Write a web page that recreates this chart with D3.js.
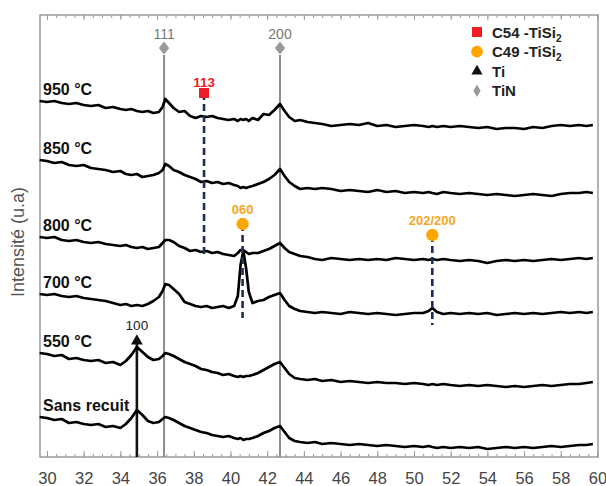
<!DOCTYPE html>
<html><head><meta charset="utf-8">
<script src="https://cdn.jsdelivr.net/npm/d3@7"></script>
<style>body{margin:0;background:#fff} svg{display:block}</style>
</head><body><svg id="chart" width="606" height="486"></svg>
<script>
// 2θ (degrees) sampling grid shared by all patterns
const twoTheta = [29.6,30.0,30.4,30.8,31.2,31.6,32.0,32.4,32.8,33.2,33.6,34.0,34.3,34.6,34.9,35.2,35.5,35.8,36.1,36.3,
  36.45,36.65,36.9,37.2,37.5,37.8,38.1,38.4,38.7,39.0,39.3,39.6,39.9,40.2,40.4,40.55,40.7,40.85,41.0,41.2,
  41.5,41.8,42.1,42.4,42.7,42.95,43.2,43.5,43.8,44.2,44.6,45.0,45.5,46.0,46.5,47.0,47.5,48.0,48.5,49.0,
  49.5,50.0,50.5,50.8,51.0,51.25,51.6,52.0,52.5,53.0,53.5,54.0,54.5,55.0,55.5,56.0,56.5,57.0,57.5,58.0,
  58.5,59.0,59.4,59.75];

const sampleNames = ["950 °C","850 °C","800 °C","700 °C","550 °C","Sans recuit"];

// Intensities (u.a., stacked with offsets as in the figure)
const int950 = [356,355,356,354,353,354,352,351,352,349, 350,348,347,348,346,345,346,344,345,350,
  358,354,349,345,346,341,339,341,340,341, 339,338,337,338,336,338,337,338,336,339,
  337,343,342,347,353,346,340,336,337,335, 334,333,331,332,333,332,334,331,332,330,
  331,332,331,330,331,330,331,330,331,330, 329,330,328,329,329,328,330,329,331,332, 331,332,331,332];
const int850 = [297,296,294,295,292,291,292,289,288,287, 285,286,283,282,283,280,281,282,284,287,
  293,291,287,285,282,280,278,275,276,274, 275,273,274,272,271,269,270,269,270,271,
  273,275,278,282,288,281,275,271,268,269, 268,269,268,266,267,266,265,267,265,266,
  264,265,264,265,264,263,265,264,263,264, 263,262,263,262,261,262,263,262,261,263, 264,264,265,264];
const int800 = [220,219,220,217,216,217,215,214,215,213, 212,211,212,210,209,210,208,209,210,214,
  217,217,215,211,209,206,207,205,206,204, 205,203,202,201,204,207,207,205,203,204,
  204,206,208,211,214,209,205,203,201,200, 198,197,199,198,197,198,197,198,197,199,
  198,197,198,197,198,197,198,197,196,197, 196,194,196,197,196,197,196,197,198,197, 198,199,198,199];
const int700 = [163,162,163,161,160,161,159,158,157,156, 154,152,153,151,152,151,153,156,160,166,
  173,172,168,163,155,153,151,150,151,149, 150,151,149,151,161,192,206,189,165,154,
  156,157,160,162,164,157,151,148,146,145, 144,145,144,143,145,144,143,144,143,142,
  143,144,144,146,149,145,143,144,143,144, 143,144,142,143,144,143,144,143,144,145, 144,145,144,145];
const int550 = [104,103,101,102,98,99,97,96,97,94, 95,92,96,102,110,105,100,97,98,101,
  104,103,101,98,95,93,91,88,87,85, 84,82,83,81,80,81,80,81,81,82,
  84,87,90,93,95,89,83,79,78,77, 78,76,77,75,76,75,74,75,74,74,
  73,74,73,72,73,72,73,72,71,72, 71,72,71,70,71,70,71,72,71,72, 73,73,74,75];
const intSansRecuit = [40,39,37,38,34,35,33,32,33,30, 31,29,33,39,47,42,36,34,35,38,
  40,39,37,34,31,29,27,25,24,22, 21,20,21,19,18,19,17,18,18,19,
  21,24,26,29,31,25,19,16,15,14, 15,13,14,13,12,13,12,11,12,11,
  10,11,10,11,10,9,10,9,10,9, 10,8,9,10,9,10,9,10,11,10, 11,12,12,13];

const xTicks = [30,32,34,36,38,40,42,44,46,48,50,52,54,56,58,60];

// Phase reflections: position (2θ) and marker intensity level
const tinPeaks = [{hkl:"111", theta:36.38, level:409}, {hkl:"200", theta:42.70, level:409}];
const tiPeaks  = [{hkl:"100", theta:34.90, level:117}];
const c54Peaks = [{hkl:"113", theta:38.56, level:364, base:199}];
const c49Peaks = [{hkl:"060", theta:40.66, level:233, base:139}, {hkl:"202/200", theta:51.0, level:222, base:132}];

const legendItems = [
  {name:"C54 -TiSi", sub:"2", sym:"square", color:"#ee1c24"},
  {name:"C49 -TiSi", sub:"2", sym:"circle", color:"#ffa500"},
  {name:"Ti", sub:"", sym:"triangle", color:"#111"},
  {name:"TiN", sub:"", sym:"diamond", color:"#9a9a9a"}
];

const series = [int950, int850, int800, int700, int550, intSansRecuit];

const svg = d3.select("#chart");
const L = 40, R = 598, T = 15, B = 457;
const x = d3.scaleLinear().domain([29.62, 60.03]).range([L, R]);
const y = d3.scaleLinear().domain([0, 442]).range([B, T]);
const FONT = "'Liberation Sans', Arial, sans-serif";

// frame
svg.append("rect").attr("x", L).attr("y", T).attr("width", R - L).attr("height", B - T)
  .attr("fill", "none").attr("stroke", "#9a9a9a").attr("stroke-width", 1.5);

// axes ticks
const minor = d3.range(30, 60.01, 0.5);
const gB = svg.append("g").attr("transform", `translate(0,${B})`)
  .call(d3.axisBottom(x).tickValues(minor).tickSize(-3).tickFormat(""));
gB.select(".domain").remove();
const gB2 = svg.append("g").attr("transform", `translate(0,${B})`)
  .call(d3.axisBottom(x).tickValues(xTicks).tickSize(-6).tickPadding(15).tickFormat(d3.format("d")));
gB2.select(".domain").remove();
gB2.selectAll("text").attr("font-family", FONT).attr("font-size", 16.5).attr("fill", "#444");
const gT = svg.append("g").attr("transform", `translate(0,${T})`)
  .call(d3.axisTop(x).tickValues(minor).tickSize(-3).tickFormat(""));
gT.select(".domain").remove();
const gT2 = svg.append("g").attr("transform", `translate(0,${T})`)
  .call(d3.axisTop(x).tickValues(xTicks).tickSize(-5).tickFormat(""));
gT2.select(".domain").remove();
svg.selectAll(".tick line").attr("stroke", "#9a9a9a").attr("stroke-width", 1);

// y title
svg.append("text").attr("transform", `translate(24,${(T + B) / 2 + 6}) rotate(-90)`)
  .attr("text-anchor", "middle").attr("font-family", FONT).attr("font-size", 18)
  .attr("fill", "#555").text("Intensité (u.a)");

// TiN reference lines
tinPeaks.forEach(p => {
  svg.append("line").attr("x1", x(p.theta)).attr("x2", x(p.theta))
    .attr("y1", y(p.level) + 7).attr("y2", B).attr("stroke", "#8c8c8c").attr("stroke-width", 2);
});
// Ti reference line
tiPeaks.forEach(p => {
  svg.append("line").attr("x1", x(p.theta)).attr("x2", x(p.theta))
    .attr("y1", y(p.level)).attr("y2", B).attr("stroke", "#111").attr("stroke-width", 2.6);
});

// patterns
const line = d3.line().x((d, i) => x(twoTheta[i])).y(d => y(d));
series.forEach(s => {
  svg.append("path").attr("d", line(s)).attr("fill", "none")
    .attr("stroke", "#000").attr("stroke-width", 2.7).attr("stroke-linejoin", "round");
});

// sample labels
series.forEach((s, i) => {
  svg.append("text").attr("x", L + 3).attr("y", y(s[0]) - 6)
    .attr("font-family", FONT).attr("font-weight", "bold").attr("font-size", 16)
    .attr("fill", "#111").text(sampleNames[i]);
});

// dashed silicide lines
[...c54Peaks, ...c49Peaks].forEach(p => {
  svg.append("line").attr("x1", x(p.theta)).attr("x2", x(p.theta))
    .attr("y1", y(p.level)).attr("y2", y(p.base))
    .attr("stroke", "#1f2d5c").attr("stroke-width", 2.6).attr("stroke-dasharray", "7,4");
});

const sym = {
  square: d3.symbol().type(d3.symbolSquare).size(100),
  circle: d3.symbol().type(d3.symbolCircle).size(120),
  triangle: d3.symbol().type(d3.symbolTriangle).size(60),
  diamond: d3.symbol().type(d3.symbolDiamond).size(60)
};

// markers + labels
c54Peaks.forEach(p => {
  svg.append("path").attr("d", sym.square()).attr("transform", `translate(${x(p.theta)},${y(p.level)})`).attr("fill", "#ee1c24");
  svg.append("text").attr("x", x(p.theta)).attr("y", y(p.level) - 6).attr("text-anchor", "middle")
    .attr("font-family", FONT).attr("font-weight", "bold").attr("font-size", 13.5).attr("fill", "#ee1c24").text(p.hkl);
});
c49Peaks.forEach(p => {
  svg.append("path").attr("d", sym.circle()).attr("transform", `translate(${x(p.theta)},${y(p.level)})`).attr("fill", "#ffa500");
  svg.append("text").attr("x", x(p.theta)).attr("y", y(p.level) - 10).attr("text-anchor", "middle")
    .attr("font-family", FONT).attr("font-weight", "bold").attr("font-size", 13).attr("fill", "#f5a623").text(p.hkl);
});
tiPeaks.forEach(p => {
  svg.append("path").attr("d", sym.triangle()).attr("transform", `translate(${x(p.theta)},${y(p.level) + 1})`).attr("fill", "#111");
  svg.append("text").attr("x", x(p.theta)).attr("y", y(p.level) - 10).attr("text-anchor", "middle")
    .attr("font-family", FONT).attr("font-size", 13.5).attr("fill", "#222").text(p.hkl);
});
tinPeaks.forEach(p => {
  svg.append("path").attr("d", d3.symbol().type(d3.symbolDiamond).size(70)())
    .attr("transform", `translate(${x(p.theta)},${y(p.level)}) scale(1.15,0.85)`).attr("fill", "#9a9a9a");
  svg.append("text").attr("x", x(p.theta)).attr("y", y(p.level) - 9).attr("text-anchor", "middle")
    .attr("font-family", FONT).attr("font-size", 14).attr("fill", "#777").text(p.hkl);
});

// legend
const lg = svg.append("g").attr("transform", "translate(477,32)");
legendItems.forEach((d, i) => {
  const g = lg.append("g").attr("transform", `translate(0,${i * 19.6})`);
  let s = sym[d.sym]();
  if (d.sym === "triangle") s = d3.symbol().type(d3.symbolTriangle).size(55)();
  if (d.sym === "diamond") s = d3.symbol().type(d3.symbolDiamond).size(45)();
  g.append("path").attr("d", s).attr("fill", d.color)
    .attr("transform", d.sym === "circle" ? "scale(0.95)" : null);
  const t = g.append("text").attr("x", 15).attr("y", 5.5).attr("font-family", FONT)
    .attr("font-weight", "bold").attr("font-size", 15).attr("fill", "#222").text(d.name);
  if (d.sub) t.append("tspan").attr("dy", 4).attr("font-size", 10).text(d.sub);
});
</script>
</body></html>
